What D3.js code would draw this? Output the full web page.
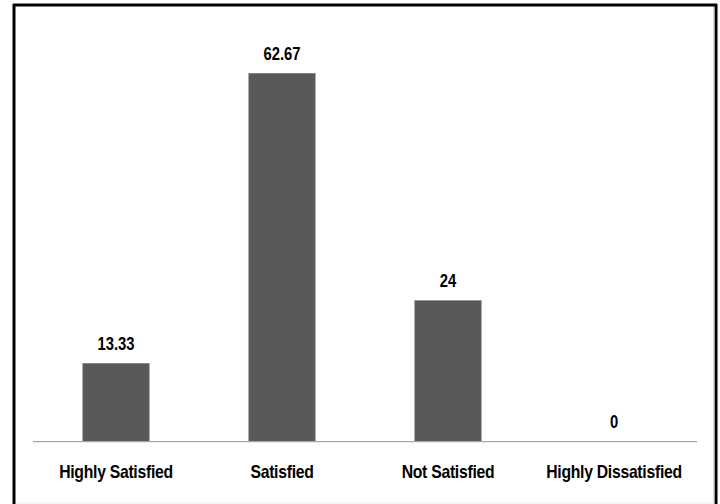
<!DOCTYPE html>
<html><head><meta charset="utf-8">
<script src="https://cdn.jsdelivr.net/npm/d3@7"></script>
<style>
html,body{margin:0;padding:0;background:#fff;}
svg{display:block;}
text{font-family:"Liberation Sans Narrow","Arial Narrow","Liberation Sans",Arial,sans-serif;font-weight:bold;fill:#000;}
</style></head>
<body>
<svg id="chart" width="720" height="504"></svg>
<script>
const categories = ["Highly Satisfied", "Satisfied", "Not Satisfied", "Highly Dissatisfied"];
const values = [13.33, 62.67, 24, 0];
const valueLabels = ["13.33", "62.67", "24", "0"];

const svg = d3.select("#chart");
const W = 720, H = 504;
const left = 33, right = 697, baseY = 441.7;

svg.append("rect").attr("x",0).attr("y",0).attr("width",W).attr("height",H).attr("fill","#fff");

// frame
svg.append("line").attr("x1",13).attr("x2",717).attr("y1",5).attr("y2",5).attr("stroke","#000").attr("stroke-width",3);
svg.append("line").attr("x1",14).attr("x2",14).attr("y1",4).attr("y2",504).attr("stroke","#000").attr("stroke-width",3);
svg.append("line").attr("x1",716).attr("x2",716).attr("y1",4).attr("y2",504).attr("stroke","#000").attr("stroke-width",3);
svg.append("line").attr("x1",714).attr("x2",714).attr("y1",7).attr("y2",504).attr("stroke","#bbb").attr("stroke-width",1);
svg.append("line").attr("x1",16).attr("x2",714).attr("y1",503).attr("y2",503).attr("stroke","#eee").attr("stroke-width",1);

const x = d3.scaleBand().domain(categories).range([left, right]).paddingInner(0.6).paddingOuter(0.3);
const y = d3.scaleLinear().domain([0, 62.67]).range([baseY, 73.3]);

svg.selectAll("rect.bar").data(values).enter().append("rect")
  .attr("class","bar")
  .attr("x",(d,i)=>x(categories[i]))
  .attr("width",x.bandwidth())
  .attr("y",d=>y(d))
  .attr("height",d=>baseY - y(d))
  .attr("fill","#595959")
  .attr("stroke","#7f7f7f").attr("stroke-width",0.6);

// baseline
svg.append("line").attr("x1",left).attr("x2",right).attr("y1",baseY).attr("y2",baseY)
  .attr("stroke","#a6a6a6").attr("stroke-width",1.3);

// value labels (condensed)
svg.selectAll("g.val").data(values).enter().append("g")
  .attr("class","val")
  .attr("transform",(d,i)=>`translate(${x(categories[i]) + x.bandwidth()/2},${y(d) - 13.5}) scale(0.8,1)`)
  .append("text")
  .attr("text-anchor","middle")
  .attr("font-size",18.5)
  .text((d,i)=>valueLabels[i]);

// category labels (condensed)
svg.selectAll("g.cat").data(categories).enter().append("g")
  .attr("class","cat")
  .attr("transform",d=>`translate(${x(d) + x.bandwidth()/2},478) scale(0.9,1)`)
  .append("text")
  .attr("text-anchor","middle")
  .attr("font-size",17.5)
  .attr("letter-spacing",-0.3)
  .text(d=>d);
</script>
</body></html>
